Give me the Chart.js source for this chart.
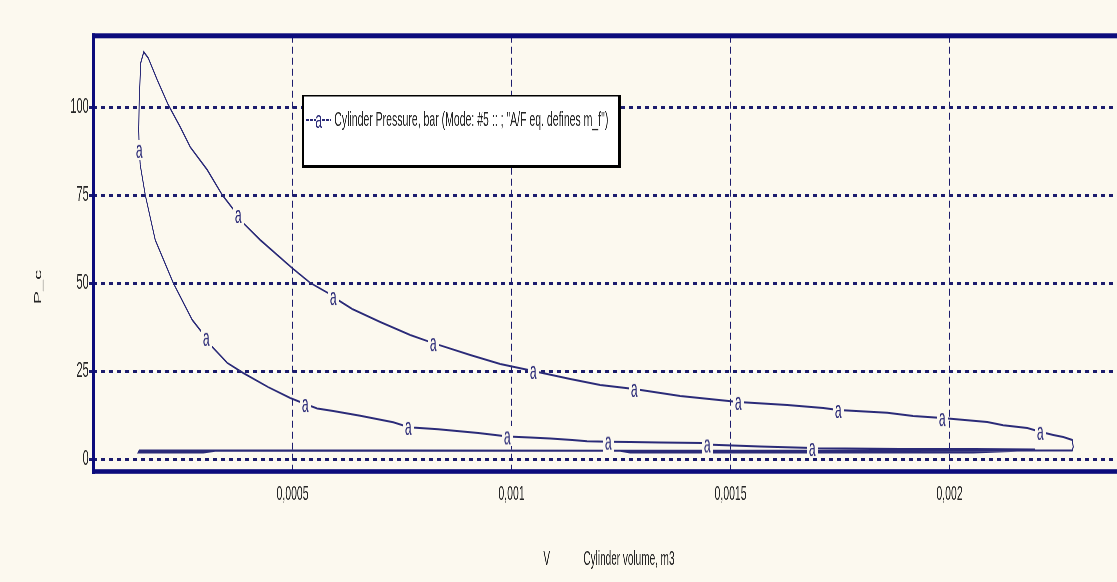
<!DOCTYPE html>
<html>
<head>
<meta charset="utf-8">
<script src="https://cdn.jsdelivr.net/npm/chart.js@4.4.1/dist/chart.umd.min.js"></script>
<style>
  html, body { margin: 0; padding: 0; width: 1117px; height: 582px; overflow: hidden; background: #fcf9ef; }
  /* the plot is laid out wide and narrowed horizontally, giving the condensed lettering */
  #wrap { position: absolute; left: 0; top: 0; width: 2320px; height: 582px; transform: scaleX(0.5); transform-origin: 0 0; background: #fcf9ef; }
</style>
</head>
<body>
<div id="wrap"><canvas id="c"></canvas></div>
<script>
// Cylinder volume (m3) and pressure (bar) around one cycle:
// compression -> combustion peak -> expansion -> exhaust -> intake
const volume = [
  0.0021957, 0.0020541, 0.0018874, 0.0016980, 0.0016865, 0.0015678, 0.0014582, 0.0014468, 0.0014354, 0.0013395,
  0.0012710, 0.0012208, 0.0011728, 0.0011386, 0.0010884, 0.0010427, 0.0009902, 0.0009628, 0.0009240, 0.0008874,
  0.0008326, 0.0007733, 0.0007642, 0.0007299, 0.0006546, 0.0005929, 0.0005564, 0.0005290, 0.0004947, 0.0004445,
  0.0003874, 0.0003509, 0.0003167, 0.0003030, 0.0002710, 0.0002276, 0.0001865, 0.0001637, 0.0001523, 0.0001500,
  0.0001488, 0.0001500, 0.0001534, 0.0001603, 0.0001705, 0.0001911, 0.0002162, 0.0002436, 0.0002664, 0.0003053,
  0.0003395, 0.0003623, 0.0003760, 0.0003852, 0.0004263, 0.0004993, 0.0005404, 0.0005815, 0.0005929, 0.0006363,
  0.0007002, 0.0007687, 0.0008212, 0.0009057, 0.0009742, 0.0010495, 0.0011340, 0.0012025, 0.0012801, 0.0013852,
  0.0015176, 0.0016294, 0.0017116, 0.0017459, 0.0018578, 0.0019171, 0.0019833, 0.0020861, 0.0021226, 0.0021774,
  0.0022071, 0.0022368, 0.0022596, 0.0022801, 0.0022824, 0.0022801, 0.0022185, 0.0018874, 0.0012710, 0.0007459,
  0.0002961, 0.0001500, 0.0001477, 0.0002961, 0.0003235, 0.0012482, 0.0012710, 0.0020541, 0.0021546, 0.0021957
];
const pressure = [
  2.8, 2.9, 2.9, 3.1, 3.2, 3.6, 4.1, 4.2, 4.6, 4.8,
  4.9, 5.0, 5.1, 5.5, 5.9, 6.2, 6.5, 6.9, 7.5, 7.9,
  8.5, 9.0, 9.2, 10.5, 12.4, 13.7, 14.4, 15.7, 17.4, 20.5,
  24.5, 27.4, 31.9, 34.5, 39.6, 50.1, 62.3, 75.1, 83.6, 87.9,
  93.6, 102.1, 112.6, 115.7, 114.0, 107.8, 100.7, 94.4, 88.7, 82.2,
  75.1, 71.4, 69.4, 67.4, 62.3, 54.3, 50.1, 47.2, 46.1, 42.7,
  39.0, 35.3, 33.0, 29.6, 27.1, 25.1, 22.8, 21.1, 20.0, 18.0,
  16.3, 15.4, 14.6, 14.0, 13.2, 12.3, 11.7, 10.6, 9.7, 8.9,
  7.8, 6.9, 6.3, 5.5, 3.5, 2.5, 2.5, 2.4, 2.4, 2.5,
  2.5, 2.5, 1.9, 1.9, 2.4, 2.4, 1.9, 1.9, 2.4, 2.8
];
// samples that carry the "a" series marker
const markerAt = [4, 7, 11, 16, 22, 27, 33, 39, 52, 58, 62, 65, 68, 70, 73, 76, 80];

const pTicks = [0, 25, 50, 75, 100];
const vTicks = [0.0005, 0.001, 0.0015, 0.002];
const vTickLabels = ['0,0005', '0,001', '0,0015', '0,002'];

const seriesLabel = 'Cylinder Pressure, bar (Mode: #5 :: ; "A/F eq. defines m_f")';
const xTitle = 'V            Cylinder volume, m3';
const yTitle = 'P_c            ';

// ---- look ----
const SX = 0.5;              // horizontal narrowing applied to #wrap
const WRAP_W = 2320;         // layout width before narrowing
const BG = '#fcf9ef';
const CURVE = '#2b2b78';
const GRID = '#1d1d6e';
const FRAME = '#0c0c7c';
const TEXT = '#262626';
const FONT = '"Liberation Sans", Arial, sans-serif';

const markerSet = new Set(markerAt);

function makeMarker() {
  const font = '24px ' + FONT;
  const probe = document.createElement('canvas').getContext('2d');
  probe.font = font;
  const w = Math.ceil(probe.measureText('a').width) + 8;
  const h = 20;
  const c = document.createElement('canvas');
  c.width = w; c.height = h;
  const g = c.getContext('2d');
  g.fillStyle = BG;
  g.fillRect(0, 0, w, h);
  g.font = font;
  g.fillStyle = CURVE;
  g.textAlign = 'center';
  g.textBaseline = 'middle';
  g.fillText('a', w / 2, h / 2 + 1);
  return c;
}
const markerImg = makeMarker();

// heavy frame round the plotting area
const frame = {
  id: 'frame',
  afterDatasetsDraw(chart) {
    const { ctx, chartArea: a } = chart;
    ctx.save();
    ctx.fillStyle = FRAME;
    ctx.fillRect(a.left - 1.5 / SX, a.top - 2.5, a.right - a.left + 3 / SX, 5);      // top
    ctx.fillRect(a.left - 1.5 / SX, a.bottom - 2.3, a.right - a.left + 3 / SX, 4.6); // bottom
    ctx.fillRect(a.left - 1.5 / SX, a.top - 2.5, 3 / SX, a.bottom - a.top + 5);      // left
    ctx.fillRect(a.right - 1.5 / SX, a.top - 2.5, 3 / SX, a.bottom - a.top + 5);     // right
    ctx.restore();
  }
};

// boxed series key inside the plot
const keyBox = {
  id: 'keyBox',
  afterDraw(chart) {
    const { ctx } = chart;
    const x0 = 302 / SX, y0 = 95, x1 = 621 / SX, y1 = 168;
    ctx.save();
    ctx.fillStyle = '#ffffff';
    ctx.fillRect(x0, y0, x1 - x0, y1 - y0);
    ctx.fillStyle = '#000000';
    ctx.fillRect(x0, y0, x1 - x0, 1.5);
    ctx.fillRect(x0, y1 - 3, x1 - x0, 3);
    ctx.fillRect(x0, y0, 2 / SX, y1 - y0);
    ctx.fillRect(x1 - 3 / SX, y0, 3 / SX, y1 - y0);
    const ty = 120;
    // line sample with its marker
    ctx.strokeStyle = CURVE;
    ctx.lineWidth = 2;
    ctx.setLineDash([5, 3]);
    ctx.beginPath();
    ctx.moveTo(306 / SX, ty); ctx.lineTo(331 / SX, ty);
    ctx.stroke();
    ctx.fillStyle = '#ffffff';
    ctx.fillRect(316 / SX, ty - 9, 5 / SX, 18);
    ctx.fillStyle = CURVE;
    ctx.font = '24px ' + FONT;
    ctx.textAlign = 'center';
    ctx.textBaseline = 'middle';
    ctx.fillText('a', 318.5 / SX, ty + 1);
    ctx.fillStyle = TEXT;
    ctx.font = '21px ' + FONT;
    ctx.textAlign = 'left';
    ctx.fillText(seriesLabel, 334 / SX, ty);
    ctx.restore();
  }
};

new Chart(document.getElementById('c'), {
  type: 'scatter',
  data: {
    datasets: [{
      label: seriesLabel,
      data: volume.map((v, i) => ({ x: v, y: pressure[i] })),
      showLine: true,
      borderColor: CURVE,
      borderWidth: 2,
      tension: 0,
      pointRadius: c => (markerSet.has(c.dataIndex) ? 6 : 0),
      pointStyle: c => (markerSet.has(c.dataIndex) ? markerImg : 'circle'),
      pointBorderWidth: 0
    }]
  },
  options: {
    responsive: true,
    maintainAspectRatio: false,
    animation: false,
    events: [],
    layout: { padding: { left: 0, top: 35.8, right: WRAP_W - 1124.5 / SX, bottom: 0 } },
    plugins: { legend: { display: false }, tooltip: { enabled: false } },
    scales: {
      x: {
        type: 'linear',
        min: 0.000045,
        max: 0.0024,
        afterBuildTicks: s => { s.ticks = vTicks.map(v => ({ value: v })); },
        afterFit: s => { s.height = 110.5; },
        ticks: {
          callback: (v, i) => vTickLabels[i],
          font: { family: FONT, size: 21 },
          color: TEXT,
          padding: 10,
          maxRotation: 0,
          autoSkip: false
        },
        grid: { color: GRID, lineWidth: 1 / SX, drawTicks: false },
        border: { display: false, dash: [7, 4] },
        title: {
          display: true,
          text: xTitle,
          color: TEXT,
          font: { family: FONT, size: 20 },
          padding: { top: 0, bottom: 11 }
        }
      },
      y: {
        type: 'linear',
        min: -3.47,
        max: 120.3,
        afterBuildTicks: s => { s.ticks = pTicks.map(v => ({ value: v })); },
        afterFit: s => { s.width = 93 / SX; },
        ticks: {
          callback: v => String(v),
          font: { family: FONT, size: 22 },
          color: TEXT,
          padding: 1
        },
        grid: {
          color: GRID,
          lineWidth: 3,
          tickLength: 4 / SX,
          tickColor: GRID,
          tickWidth: 3,
          tickBorderDash: []
        },
        border: { display: false, dash: [8, 8] },
        title: {
          display: true,
          text: yTitle,
          color: TEXT,
          font: { family: FONT, size: 20 },
          padding: { top: 64, bottom: 0 }
        }
      }
    }
  },
  plugins: [frame, keyBox]
});
</script>
</body>
</html>
